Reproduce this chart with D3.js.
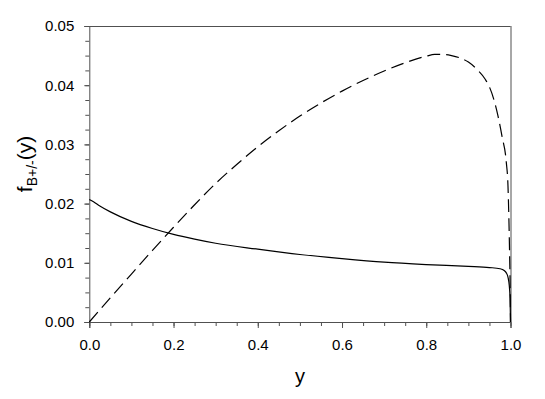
<!DOCTYPE html>
<html>
<head>
<meta charset="utf-8">
<script src="https://cdn.jsdelivr.net/npm/d3@7"></script>
<style>
    body { margin: 0; background: #fff; }
    svg { display: block; font-family: "Liberation Sans", Arial, sans-serif; }
</style>
</head>
<body>
<div id="chart"></div>
<script>
// values
const ySolid = [0, 0.01, 0.025, 0.05, 0.1, 0.15, 0.2, 0.25, 0.3, 0.4, 0.5, 0.6, 0.7, 0.8, 0.9, 0.95, 0.975, 0.985, 0.99, 0.994, 0.997, 0.999, 1.0];
const fSolid = [0.0207, 0.0203, 0.0196, 0.0186, 0.0170, 0.0158, 0.0148, 0.0140, 0.0133, 0.0123, 0.0114, 0.0107, 0.0101, 0.0097, 0.0094, 0.0092, 0.0090, 0.0087, 0.0083, 0.0076, 0.0062, 0.0040, 0];

const yDashed = [0, 0.05, 0.1, 0.15, 0.2, 0.25, 0.3, 0.35, 0.4, 0.45, 0.5, 0.55, 0.6, 0.65, 0.7, 0.75, 0.8, 0.82, 0.84, 0.86, 0.88, 0.9, 0.92, 0.94, 0.95, 0.96, 0.97, 0.98, 0.99, 0.994, 0.996, 0.998, 0.9995, 1.0];
const fDashed = [0, 0.0041, 0.0081, 0.0121, 0.0160, 0.0198, 0.0234, 0.0266, 0.0296, 0.0323, 0.0348, 0.0370, 0.0390, 0.0408, 0.0424, 0.0438, 0.0449, 0.0452, 0.0452, 0.0450, 0.0446, 0.0439, 0.0427, 0.0410, 0.0397, 0.0377, 0.0349, 0.0313, 0.0270, 0.0230, 0.0180, 0.0110, 0.0040, 0];

const xTicks = [0, 0.2, 0.4, 0.6, 0.8, 1.0];
const yTicks = [0, 0.01, 0.02, 0.03, 0.04, 0.05];

const W = 545, H = 399;
const margin = { top: 26, right: 34.5, bottom: 77, left: 89.3 };
const width = W - margin.left - margin.right;
const height = H - margin.top - margin.bottom;
const axisColor = "#505050";

const svg = d3.select("#chart").append("svg")
    .attr("width", W).attr("height", H)
    .append("g")
    .attr("transform", `translate(${margin.left},${margin.top})`);

const x = d3.scaleLinear().domain([0, 1]).range([0, width]);
const y = d3.scaleLinear().domain([0, 0.05]).range([height, 0]);

// minor ticks
const xMinor = d3.range(0, 1.0001, 0.05);
const yMinor = d3.range(0, 0.05001, 0.0025);

svg.append("g").attr("transform", `translate(0,${height})`)
    .call(d3.axisBottom(x).tickValues(xMinor).tickSize(4).tickFormat(""))
    .call(g => g.select(".domain").remove())
    .call(g => g.selectAll("line").attr("stroke", axisColor));

svg.append("g")
    .call(d3.axisLeft(y).tickValues(yMinor).tickSize(4).tickFormat(""))
    .call(g => g.select(".domain").remove())
    .call(g => g.selectAll("line").attr("stroke", axisColor));

// major ticks + labels
const xAxis = svg.append("g").attr("transform", `translate(0,${height})`)
    .call(d3.axisBottom(x).tickValues(xTicks).tickSize(6).tickPadding(11).tickFormat(d3.format(".1f")));
xAxis.select(".domain").attr("stroke", axisColor);
xAxis.selectAll("line").attr("stroke", axisColor);
xAxis.selectAll("text").style("font-size", "15px").attr("fill", "#000");

const yAxis = svg.append("g")
    .call(d3.axisLeft(y).tickValues(yTicks).tickSize(5).tickPadding(10).tickFormat(d3.format(".2f")));
yAxis.select(".domain").attr("stroke", axisColor);
yAxis.selectAll("line").attr("stroke", axisColor);
yAxis.selectAll("text").style("font-size", "15px").attr("fill", "#000");

// frame top and right
svg.append("line").attr("x1", 0).attr("x2", width).attr("y1", 0.5).attr("y2", 0.5).attr("stroke", axisColor);
svg.append("line").attr("x1", width + 0.5).attr("x2", width + 0.5).attr("y1", 0).attr("y2", height).attr("stroke", axisColor);

// curves
const line = d3.line().x(d => x(d[0])).y(d => y(d[1])).curve(d3.curveMonotoneX);

svg.append("path")
    .datum(d3.zip(ySolid, fSolid))
    .attr("d", line)
    .attr("fill", "none").attr("stroke", "#000").attr("stroke-width", 1.2);

svg.append("path")
    .datum(d3.zip(yDashed, fDashed))
    .attr("d", line)
    .attr("fill", "none").attr("stroke", "#000").attr("stroke-width", 1.2)
    .attr("stroke-dasharray", "13,6");

// axis titles
svg.append("text")
    .attr("x", width / 2).attr("y", height + 61)
    .attr("text-anchor", "middle")
    .style("font-size", "20px")
    .text("y");

const yLab = svg.append("text")
    .attr("transform", `translate(${32 - margin.left},${164 - margin.top}) rotate(-90)`)
    .attr("text-anchor", "middle")
    .style("font-size", "21px");
yLab.append("tspan").text("f");
yLab.append("tspan").attr("dy", 5).style("font-size", "14px").text("B+/-");
yLab.append("tspan").attr("dy", -5).text("(y)");
</script>
</body>
</html>
